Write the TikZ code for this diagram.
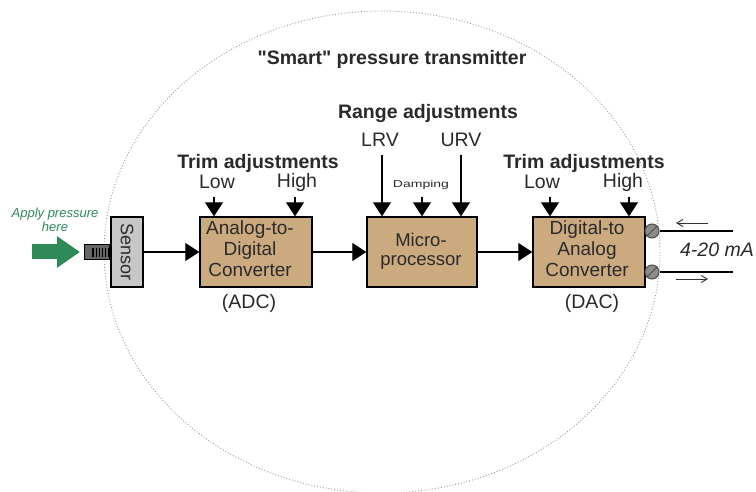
\documentclass[tikz,border=0pt]{standalone}
\usepackage{fontspec}
\setmainfont{Liberation Sans}[Ligatures=TeXOff]
\usetikzlibrary{arrows.meta}
\definecolor{tan1}{HTML}{CCAA80}
\definecolor{grn}{HTML}{2E8B57}
\definecolor{txt}{HTML}{2A2A2A}
\tikzset{
  x=1pt,y=-1pt,
  block/.style={draw=black,line width=1.4pt,fill=tan1,text=txt,minimum width=112pt,minimum height=70pt,inner sep=0pt},
  blocktext/.style={text=txt,align=center,inner sep=0pt,font=\fontsize{19}{21}\selectfont},
  sig/.style={draw=black,line width=1.3pt,-{Triangle[length=14pt,width=18pt]}},
  head/.style={text=txt,font=\fontsize{19.5}{22}\selectfont\bfseries,inner sep=0pt},
  lab/.style={text=txt,font=\fontsize{19.5}{22}\selectfont,inner sep=0pt},
  terminal/.style={circle,draw=black!70,fill=black!45,minimum size=14pt,inner sep=0pt,line width=1pt},
  wire/.style={draw=black,line width=1.1pt},
  small arrow/.style={draw=black!80,line width=.9pt,-{Straight Barb[length=6pt,width=7pt]}},
}
\begin{document}
\begin{tikzpicture}
\useasboundingbox[fill=white] (0,0) rectangle (756,492);
\draw[black!40,line width=.9pt,dotted] (382,252) ellipse [x radius=278,y radius=241];
\node[head] (title) at (392,59) {"Smart" pressure transmitter};
% blocks
\node[block] (adc) at (256,252) {};
\node[blocktext] (adct) at (250,249) {Analog-to-\\Digital\\Converter};
\node[block,minimum width=110pt] (mp) at (422,252) {};
\node[blocktext,font=\fontsize{18.5}{19}\selectfont] (mpt) at (421,251) {Micro-\\processor};
\node[block] (dac) at (589,252) {};
\node[blocktext] (dact) at (587,249) {Digital-to\\Analog\\Converter};
\node[draw=black,line width=1.3pt,fill=black!22,minimum width=32pt,minimum height=70pt,inner sep=0pt] (sensor) at (127,252) {};
\node[rotate=-90,text=txt,font=\fontsize{18}{20}\selectfont] (sensortext) at (127,252) {Sensor};
\node[draw=black,line width=1.2pt,fill=black!60,minimum width=25pt,minimum height=15pt,inner sep=0pt,anchor=east] (port) at (sensor.west) {};
\foreach \i in {0,...,5} \draw[black,line width=1.1pt] (93+\i*3.2,248) -- (93+\i*3.2,257);
% green arrow
\coordinate (ga) at (32,252);
\coordinate (gb) at (80,252);
\draw[grn,line width=15pt,-{Triangle[length=23pt,width=30pt]}] (ga) -- (gb);
\node[text=grn,font=\fontsize{13}{14.5}\selectfont\itshape,align=center,inner sep=0pt] (apply) at (55,220) {Apply pressure\\here};
% signal connections
\draw[sig] (sensor) -- (adc);
\draw[sig] (adc) -- (mp);
\draw[sig] (mp) -- (dac);
% headings
\node[head] (t1) at (258,163) {Trim adjustments};
\node[lab] (low1) at (217,182) {Low};
\node[lab] (high1) at (297,182) {High};
\node[head] (t2) at (584,163) {Trim adjustments};
\node[lab] (low2) at (542,182) {Low};
\node[lab] (high2) at (623,182) {High};
\node[head] (range) at (428,114) {Range adjustments};
\node[lab] (lrv) at (380,140) {LRV};
\node[lab] (urv) at (461,140) {URV};
\node[text=txt,font=\fontsize{10}{12}\selectfont,inner sep=0pt,xscale=1.4,transform shape] (damp) at (421,185) {Damping};
% input arrows
\coordinate (i1) at (214,197); \coordinate (i2) at (295,197);
\coordinate (i3) at (550,197); \coordinate (i4) at (629,197);
\coordinate (i5) at (382,155); \coordinate (i6) at (461,155);
\coordinate (i7) at (422,197);
\draw[sig] (i1) -- (i1 |- adc.north);
\draw[sig] (i2) -- (i2 |- adc.north);
\draw[sig] (i3) -- (i3 |- dac.north);
\draw[sig] (i4) -- (i4 |- dac.north);
\draw[sig] (i5) -- (i5 |- mp.north);
\draw[sig] (i6) -- (i6 |- mp.north);
\draw[sig] (i7) -- (i7 |- mp.north);
% terminals
\coordinate (w1) at (733,231);
\coordinate (w2) at (733,272);
\node[terminal] (s1) at (652,231) {};
\node[terminal] (s2) at (652,272) {};
\draw[wire] (s1) -- (w1);
\draw[wire] (s2) -- (w2);
\draw[black!70,line width=.8pt] (s1.south west) -- (s1.north east);
\draw[black!70,line width=.8pt] (s2.south west) -- (s2.north east);
\coordinate (a1) at (708,223); \coordinate (a2) at (676,223);
\coordinate (a3) at (676,279); \coordinate (a4) at (708,279);
\draw[small arrow] (a1) -- (a2);
\draw[small arrow] (a3) -- (a4);
\node[text=txt,font=\fontsize{19.5}{22}\selectfont\itshape,inner sep=0pt] (ma) at (717,250) {4-20 mA};
\node[lab] (adclabel) at (249,303) {(ADC)};
\node[lab] (daclabel) at (592,303) {(DAC)};
\end{tikzpicture}
\end{document}
